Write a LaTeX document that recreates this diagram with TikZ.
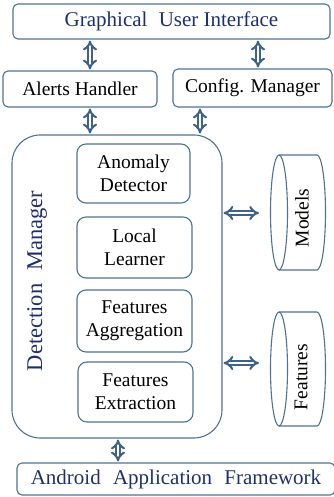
\documentclass[tikz,border=0pt]{standalone}
\usepackage{fontspec}
\setmainfont{Liberation Serif}
\usetikzlibrary{arrows.meta,positioning}
\definecolor{edgeblue}{HTML}{4F7192}
\definecolor{arrowblue}{HTML}{3E6386}
\definecolor{navytext}{HTML}{1F2F6E}

\begin{document}
\begin{tikzpicture}
		[x=1pt,y=-1pt,
		block/.style ={rectangle, draw=edgeblue, line width=1.1pt, rounded corners=5pt, inner sep=0pt, align=center, font=\fontsize{19.5}{23}\selectfont},
		module/.style ={block, minimum width=115pt, minimum height=60pt, rounded corners=9pt},
		store/.style ={draw=edgeblue, line width=1.1pt},
		dbl/.style ={draw=arrowblue, line width=2.1pt, double=white, double distance=2.4pt, {Implies[scale=1.3]}-{Implies[scale=1.3]}, shorten >=1pt, shorten <=1pt},
		vlabel/.style = {font=\fontsize{19.5}{23}\selectfont, rotate=90, inner sep=0pt},
		]
		\useasboundingbox (0,0) rectangle (333,497);

		\draw (171.5,21.5) node[block, minimum width=317pt, minimum height=35pt, text=navytext, font=\fontsize{21}{23}\selectfont] (gui) {Graphical\hspace{6pt} User Interface};
		\draw (80,89) node[block, minimum width=154pt, minimum height=36pt] (alerts) {Alerts Handler};
		\draw (252.5,88) node[block, minimum width=159pt, minimum height=38pt] (config) {Config. Manager};

		\draw (117,286.5) node[block, minimum width=210pt, minimum height=303pt, rounded corners=28pt] (detect) {};
		\draw (37,281) node[vlabel, text=navytext, font=\fontsize{22.5}{24}\selectfont] (dmlabel) {Detection\hspace{7pt} Manager};

		\draw (133.5,173.5) node[module, minimum width=113pt, minimum height=59pt] (anomaly) {Anomaly\\Detector};
		\draw (134.5,247.5) node[module, minimum height=61pt] (learner) {Local\\Learner};
		\draw (134.5,321) node[module, minimum height=62pt] (aggreg) {Features\\Aggregation};
		\draw (135.5,392) node[module] (extract) {Features\\Extraction};

		\draw (176,479) node[block, minimum width=318pt, minimum height=32pt, text=navytext, font=\fontsize{21}{23}\selectfont] (android) {Android\hspace{7pt} Application\hspace{7pt} Framework};

		% data stores
		\draw[store] (279,212.5) ellipse[x radius=8.5, y radius=57.5];
		\draw[store] (279,155) -- (317,155) arc[start angle=-90, end angle=90, x radius=8.5, y radius=57.5] -- (279,270);
		\draw (302,218) node[vlabel] (models) {Models};
		\draw[store] (279,369) ellipse[x radius=8.5, y radius=57];
		\draw[store] (279,312) -- (317,312) arc[start angle=-90, end angle=90, x radius=8.5, y radius=57] -- (279,426);
		\draw (301,377) node[vlabel] (feats) {Features};

		\coordinate (modin) at (260,213);
		\coordinate (featin) at (260,363);

		\draw[dbl] (gui.south -| 90,0) -- (alerts.north -| 90,0);
		\draw[dbl] (gui.south -| 258,0) -- (config.north -| 258,0);
		\draw[dbl] (alerts.south -| 90,0) -- (detect.north -| 90,0);
		\draw[dbl] (config.south -| 200,0) -- (detect.north -| 200,0);
		\draw[dbl] (detect.east |- modin) -- (modin);
		\draw[dbl] (detect.east |- featin) -- (featin);
		\draw[dbl] (detect.south -| 118,0) -- (android.north -| 118,0);
	\end{tikzpicture}
\end{document}
